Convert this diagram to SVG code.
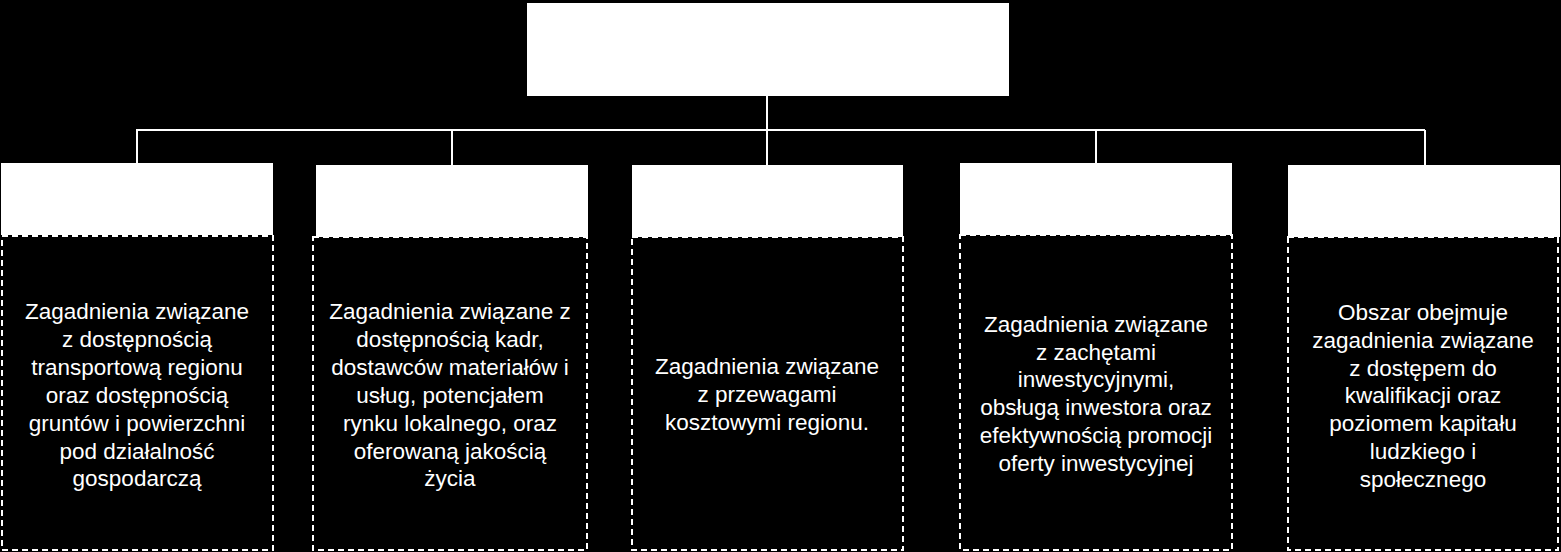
<svg xmlns="http://www.w3.org/2000/svg" width="1561" height="552" viewBox="0 0 1561 552">
<style>
.hdr{fill:#ffffff;stroke:none}
.body{fill:#000000;stroke:#ffffff;stroke-width:2;stroke-dasharray:6 4}
.conn{fill:none;stroke:#ffffff;stroke-width:2}
text{font-family:"Liberation Sans",Arial,sans-serif;font-size:22.5px;fill:#ffffff;text-anchor:middle}
</style>
<rect x="0" y="0" width="1561" height="552" fill="#000000"/>
<g id="connectors">
<line class="conn" x1="767" y1="96" x2="767" y2="130"/>
<line class="conn" x1="136" y1="130" x2="1425" y2="130"/>
<line class="conn" x1="137" y1="130" x2="137" y2="163"/>
<line class="conn" x1="452" y1="130" x2="452" y2="165"/>
<line class="conn" x1="767" y1="130" x2="767" y2="165"/>
<line class="conn" x1="1096" y1="130" x2="1096" y2="163"/>
<line class="conn" x1="1425" y1="130" x2="1425" y2="165"/>
</g>
<g id="root">
<rect class="hdr" x="527" y="3" width="482" height="93"/>
</g>
<g id="node1">
<rect class="hdr" x="1" y="163" width="272" height="72"/>
<rect class="body" x="2" y="236" width="271" height="314"/>
<text x="137"><tspan x="137" y="319">Zagadnienia związane</tspan><tspan x="137" y="347">z dostępnością</tspan><tspan x="137" y="375">transportową regionu</tspan><tspan x="137" y="403">oraz dostępnością</tspan><tspan x="137" y="431">gruntów i powierzchni</tspan><tspan x="137" y="459">pod działalność</tspan><tspan x="137" y="486">gospodarczą</tspan></text>
</g>
<g id="node2">
<rect class="hdr" x="316" y="165" width="272" height="72"/>
<rect class="body" x="313" y="237" width="274" height="313"/>
<text x="450"><tspan x="450" y="319">Zagadnienia związane z</tspan><tspan x="450" y="347">dostępnością kadr,</tspan><tspan x="450" y="375">dostawców materiałów i</tspan><tspan x="450" y="403">usług, potencjałem</tspan><tspan x="450" y="431">rynku lokalnego, oraz</tspan><tspan x="450" y="459">oferowaną jakością</tspan><tspan x="450" y="486">życia</tspan></text>
</g>
<g id="node3">
<rect class="hdr" x="632" y="165" width="271" height="72"/>
<rect class="body" x="632" y="237" width="271" height="313"/>
<text x="767"><tspan x="767" y="374">Zagadnienia związane</tspan><tspan x="767" y="402">z przewagami</tspan><tspan x="767" y="430">kosztowymi regionu.</tspan></text>
</g>
<g id="node4">
<rect class="hdr" x="960" y="163" width="272" height="72"/>
<rect class="body" x="960" y="235" width="272" height="315"/>
<text x="1096"><tspan x="1096" y="332">Zagadnienia związane</tspan><tspan x="1096" y="360">z zachętami</tspan><tspan x="1096" y="387">inwestycyjnymi,</tspan><tspan x="1096" y="415">obsługą inwestora oraz</tspan><tspan x="1096" y="443">efektywnością promocji</tspan><tspan x="1096" y="471">oferty inwestycyjnej</tspan></text>
</g>
<g id="node5">
<rect class="hdr" x="1288" y="165" width="272" height="72"/>
<rect class="body" x="1288" y="237" width="270" height="313"/>
<text x="1423"><tspan x="1423" y="320">Obszar obejmuje</tspan><tspan x="1423" y="348">zagadnienia związane</tspan><tspan x="1423" y="376">z dostępem do</tspan><tspan x="1423" y="403">kwalifikacji oraz</tspan><tspan x="1423" y="431">poziomem kapitału</tspan><tspan x="1423" y="459">ludzkiego i</tspan><tspan x="1423" y="487">społecznego</tspan></text>
</g>
</svg>
